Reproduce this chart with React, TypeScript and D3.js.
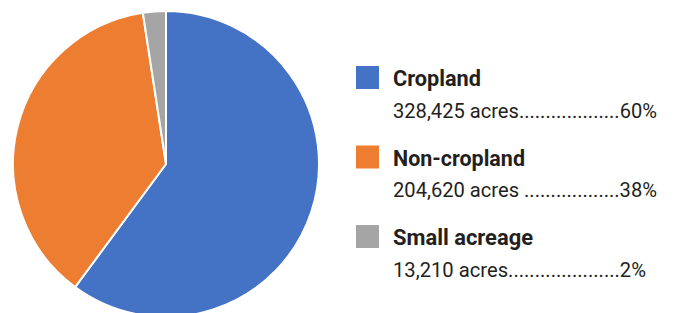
import React, { useEffect, useRef } from 'react';
import * as d3 from 'd3';

const categories = ['Cropland', 'Non-cropland', 'Small acreage'];
const acres = [328425, 204620, 13210];
const detailLabels = [
  '328,425 acres...................60%',
  '204,620 acres ..................38%',
  '13,210 acres.....................2%',
];
const colors = ['#4472C4', '#ED7D31', '#A5A5A5'];

const width = 673;
const height = 313;

export default function App() {
  const ref = useRef<SVGSVGElement>(null);

  useEffect(() => {
    const svg = d3.select(ref.current);
    svg.selectAll('*').remove();

    const cx = 166;
    const cy = 164;
    const R = 153;

    const data = categories.map((name, i) => ({ name, value: acres[i] }));
    const pie = d3.pie<any>().value((d) => d.value).sort(null);
    const arc = d3.arc<any>().innerRadius(0).outerRadius(R);

    svg.append('g')
      .attr('transform', `translate(${cx},${cy})`)
      .selectAll('path')
      .data(pie(data))
      .enter()
      .append('path')
      .attr('d', arc)
      .attr('fill', (d, i) => colors[i])
      .attr('stroke', '#fff')
      .attr('stroke-width', 2)
      .attr('stroke-linejoin', 'round');

    // legend
    const rowY = d3.scaleLinear().domain([0, 1]).range([86, 165.5]);
    const titleWidths = [88, 132, 140];
    const detailWidths = [264, 264, 253];

    const rows = svg.append('g')
      .selectAll('g')
      .data(categories)
      .enter()
      .append('g')
      .attr('transform', (d, i) => `translate(0,${rowY(i)})`);

    rows.append('rect')
      .attr('x', 356)
      .attr('y', -20)
      .attr('width', 23)
      .attr('height', 23)
      .attr('fill', (d, i) => colors[i]);

    rows.append('text')
      .attr('x', 393)
      .attr('y', 0)
      .attr('font-family', 'Roboto, "Liberation Sans", sans-serif')
      .attr('font-weight', 700)
      .attr('font-size', 22)
      .attr('fill', '#231f20')
      .attr('textLength', (d, i) => titleWidths[i])
      .attr('lengthAdjust', 'spacingAndGlyphs')
      .text((d) => d);

    rows.append('text')
      .attr('x', 393)
      .attr('y', 31.5)
      .attr('font-family', 'Roboto, "Liberation Sans", sans-serif')
      .attr('font-size', 21)
      .attr('fill', '#231f20')
      .attr('textLength', (d, i) => detailWidths[i])
      .attr('lengthAdjust', 'spacingAndGlyphs')
      .text((d, i) => detailLabels[i]);
  }, []);

  return (
    <div style={{ position: 'absolute', left: 0, top: 0, width, height, overflow: 'hidden', background: '#fff' }}>
      <svg ref={ref} width={width} height={height}></svg>
    </div>
  );
}
